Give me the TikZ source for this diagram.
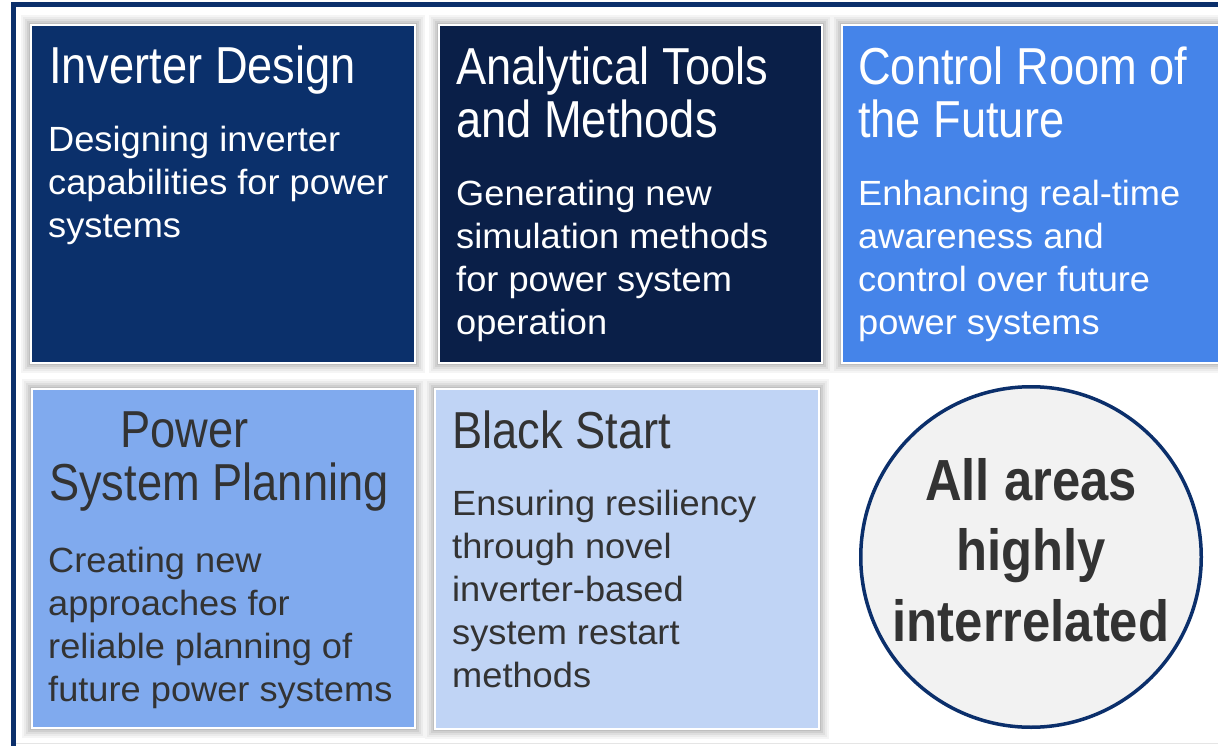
\documentclass[tikz,border=0pt]{standalone}
\usepackage{fontspec}
\setmainfont{Liberation Sans}
\newfontfamily\bodyfont[FakeStretch=1.035]{Liberation Sans}
\newfontfamily\narrowfont[FakeStretch=0.87]{Liberation Sans}
\newfontfamily\narrowbold[FakeStretch=0.875]{Liberation Sans Bold}
\usetikzlibrary{backgrounds,calc}
\definecolor{navy}{HTML}{0B2F6B}
\definecolor{cA}{HTML}{0B306B}
\definecolor{cB}{HTML}{0A1F48}
\definecolor{cC}{HTML}{4584E9}
\definecolor{cD}{HTML}{80AAEE}
\definecolor{cE}{HTML}{C0D4F5}
\definecolor{txt}{HTML}{333333}
\definecolor{circ}{HTML}{F2F2F2}
\newcommand\lstack[1]{\vtop{\halign{##\hfil\cr#1\crcr}}}
\newcommand\cstack[1]{\vtop{\halign{\hfil##\hfil\cr#1\crcr}}}
\begin{document}
\begin{tikzpicture}[x=1pt,y=-1pt,
  tile/.style={draw=white, line width=2pt, anchor=north west, inner sep=0pt, outer sep=0pt},
  ttl/.style={anchor=base west, inner sep=0pt, font=\narrowfont\fontsize{52}{53}\selectfont},
  body/.style={anchor=base west, inner sep=0pt, font=\bodyfont\fontsize{35}{43}\selectfont}]
\useasboundingbox (0,0) rectangle (1218,746);
% tiles
\node[tile, fill=cA, minimum width=384pt, minimum height=338pt] (b1) at (31,25) {};
\node[tile, fill=cB, minimum width=383pt, minimum height=338pt] (b2) at (439,25) {};
\node[tile, fill=cC, minimum width=400pt, minimum height=338pt] (b3) at (842,25) {};
\node[tile, fill=cD, minimum width=383pt, minimum height=339pt] (b4) at (32,389) {};
\node[tile, fill=cE, minimum width=384pt, minimum height=340pt] (b5) at (435,389) {};
\begin{scope}[on background layer]
\fill[white] (0,0) rectangle (1218,746);
\foreach \n in {b1,b2,b3,b4,b5}{
  \foreach \d/\g in {10/4,8/8,6/13,4/19,2/25}{
    \fill[black!\g] ($(\n.north west)+(-\d,-\d)$) rectangle ($(\n.south east)+(\d,\d)$);
  }
}
% frame
\draw[navy, line width=5pt] (13.5,760) -- (13.5,5) -- (1240,5);
\draw[black!10, line width=1.5pt] (16,743.5) -- (1240,743.5);
\end{scope}
% circle
\node[circle, draw=navy, line width=3.5pt, fill=circ, minimum size=340.5pt, inner sep=0pt] (c) at (1031,557) {};
% texts
\node[ttl, white] (t1) at (49,84) {Inverter Design};
\node[body, white] (d1) at (48,152) {\lstack{Designing inverter\cr capabilities for power\cr systems}};
\node[ttl, white] (t2) at (456,85) {\lstack{Analytical Tools\cr and Methods}};
\node[body, white] (d2) at (456,206) {\lstack{Generating new\cr simulation methods\cr for power system\cr operation}};
\node[ttl, white] (t3) at (858,85) {\lstack{Control Room of\cr the Future}};
\node[body, white] (d3) at (858,206) {\lstack{Enhancing real-time\cr awareness and\cr control over future\cr power systems}};
\node[ttl, txt] (t4) at (49,447) {\lstack{\hskip71pt Power\cr System Planning}};
\node[body, txt] (d4) at (48,572) {\lstack{Creating new\cr approaches for\cr reliable planning of\cr future power systems}};
\node[ttl, txt] (t5) at (452,448) {Black Start};
\node[body, txt] (d5) at (452,515) {\lstack{Ensuring resiliency\cr through novel\cr inverter-based\cr system restart\cr methods}};
\node[anchor=base, inner sep=0pt, txt, font=\narrowbold\fontsize{58}{70.5}\selectfont] (ct) at (1031,500) {\cstack{All areas\cr highly\cr interrelated}};
\end{tikzpicture}
\end{document}
